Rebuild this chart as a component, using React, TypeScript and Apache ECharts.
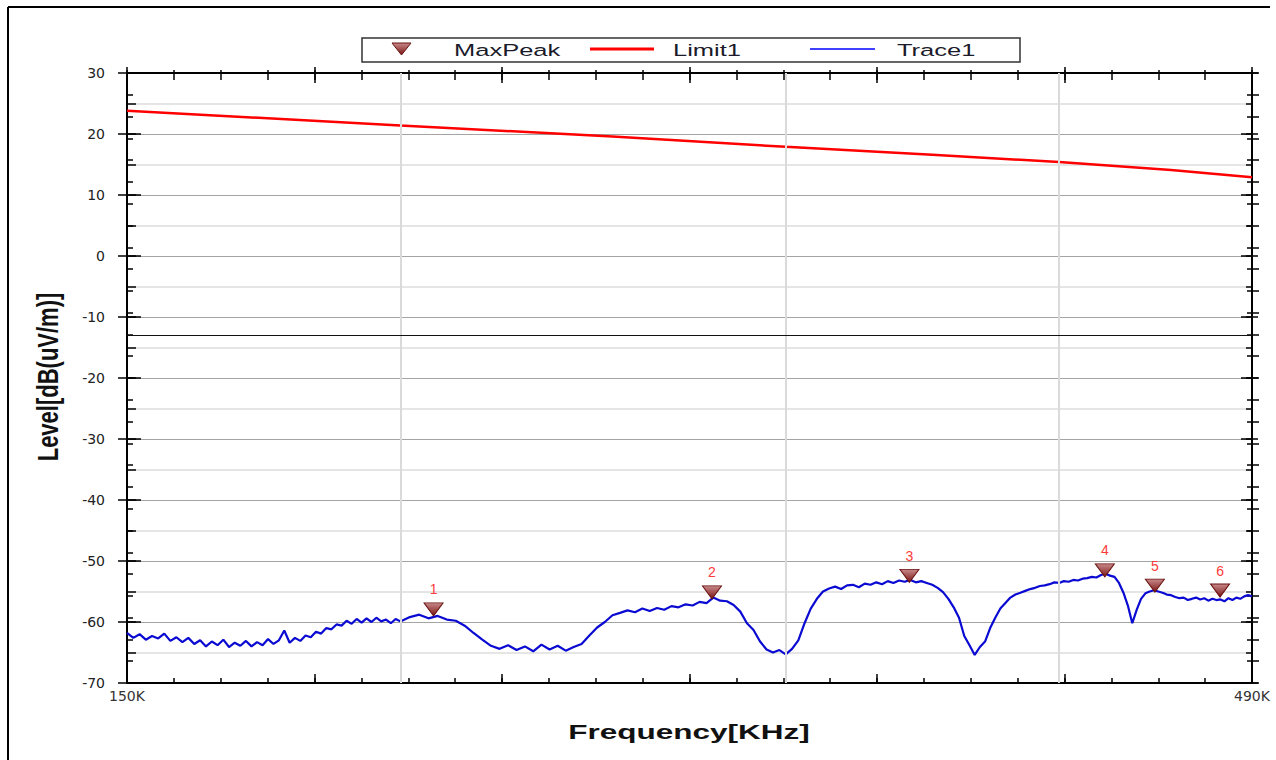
import { useEffect, useRef } from 'react';
import * as echarts from 'echarts';

// ---- axes ----
const xMin = 150;
const xMax = 490;
const xUnit = 'K';
const yMin = -70;
const yMax = 30;
const yStep = 10;
const yMinorStep = 5;
const gridFreqs = [200, 300, 400];
const refLevel = -13;
const xDecorDivs = 24;
const yDecorDivs = 28;

// ---- texts ----
const legendNames = ['MaxPeak', 'Limit1', 'Trace1'];
const xTitle = 'Frequency[KHz]';
const yTitle = 'Level[dB(uV/m)]';

// ---- data (kHz, dB(uV/m)) ----
const limit1: number[][] = [
  [150, 23.8], [200, 21.4], [250, 19.6], [300, 17.9], [350, 16.6], [400, 15.4], [450, 14.1], [490, 12.9],
];

const maxPeak: number[][] = [
  [207.1, -59.0], [277.6, -56.2], [341.7, -53.5], [419.7, -52.6], [442.4, -55.1], [473.8, -55.9],
];
const peakLabels = ['1', '2', '3', '4', '5', '6'];

const trace1: number[][] = [
  [150, -61.8], [151, -62.6], [152, -62.0], [153, -62.9], [154, -62.3], [155, -62.7], [156, -61.9], [157, -63.1],
  [158, -62.5], [159, -63.3], [160, -62.6], [161, -63.6], [162, -63.0], [163, -64.0], [164, -63.2], [165, -63.8],
  [166, -62.9], [167, -64.1], [168, -63.4], [169, -63.9], [170, -63.1], [171, -64.0], [172, -63.3], [173, -63.8],
  [174, -62.8], [175, -63.6], [176, -63.0], [177, -61.4], [178, -63.4], [179, -62.6], [180, -63.1], [181, -62.2],
  [182, -62.5], [183, -61.6], [184, -61.9], [185, -61.0], [186, -61.2], [187, -60.4], [188, -60.6], [189, -59.8],
  [190, -60.3], [191, -59.5], [192, -60.1], [193, -59.4], [194, -60.0], [195, -59.3], [196, -59.9], [197, -59.6],
  [198, -60.2], [199, -59.5], [200, -59.9],
  [202, -59.2], [204, -58.8], [206, -59.4], [208, -59.0], [210, -59.6], [212, -59.8], [214, -60.6], [216, -61.8],
  [218, -62.9], [220, -63.9], [222, -64.4], [224, -63.8], [226, -64.6], [228, -64.0], [230, -64.8], [232, -63.7],
  [234, -64.5], [236, -63.9], [238, -64.7], [240, -64.1], [242, -63.6], [244, -62.2], [246, -60.9], [248, -60.0],
  [250, -58.9], [252, -58.5], [254, -58.1], [256, -58.4], [258, -57.8], [260, -58.2], [262, -57.7], [264, -58.0],
  [266, -57.4], [268, -57.6], [270, -57.1], [272, -57.3], [274, -56.7], [276, -56.9], [278, -56.0], [280, -56.5],
  [282, -56.6], [284, -57.2], [286, -58.3], [288, -60.2], [290, -61.3], [292, -63.2], [294, -64.5], [296, -65.0],
  [298, -64.6], [300, -65.3],
  [302, -64.4], [304, -63.0], [306, -60.2], [308, -57.8], [310, -56.2], [312, -55.0], [314, -54.5], [316, -54.2],
  [318, -54.6], [320, -54.0], [322, -53.9], [324, -54.3], [326, -53.7], [328, -53.9], [330, -53.5], [332, -53.8],
  [334, -53.3], [336, -53.6], [338, -53.2], [340, -53.4], [342, -53.1], [344, -53.5], [346, -53.3], [348, -53.6],
  [350, -53.9], [352, -54.4], [354, -55.1], [356, -56.2], [358, -57.6], [360, -59.3], [362, -62.3], [364, -63.8],
  [366, -65.4], [368, -64.1], [370, -63.2], [372, -61.0], [374, -59.3], [376, -57.8], [378, -56.9], [380, -56.0],
  [382, -55.5], [384, -55.2], [386, -54.9], [388, -54.6], [390, -54.4], [392, -54.1], [394, -54.0], [396, -53.8],
  [398, -53.5], [400, -53.6],
  [402, -53.3], [404, -53.4], [406, -53.1], [408, -53.2], [410, -52.9], [412, -52.8], [414, -52.6], [416, -52.7],
  [418, -52.3], [420, -52.1], [422, -52.4], [424, -52.6], [426, -53.6], [428, -55.2], [430, -57.3], [432, -60.2],
  [434, -58.0], [436, -56.2], [438, -55.3], [440, -55.0], [442, -54.8], [444, -55.0], [446, -55.2], [448, -55.5],
  [450, -55.6], [452, -55.9], [454, -56.1], [456, -56.0], [458, -56.4], [460, -56.2], [462, -56.0], [464, -56.3],
  [466, -56.1], [468, -56.5], [470, -56.2], [472, -56.4], [474, -56.3], [476, -56.6], [478, -56.1], [480, -56.4],
  [482, -56.0], [484, -56.2], [486, -55.8], [488, -55.6], [490, -55.8],
];

const BLACK = '#000';
const FONT = 'Liberation Sans, Arial, sans-serif';

function triGrad() {
  return new echarts.graphic.LinearGradient(0, 0, 0, 1, [
    { offset: 0, color: '#c98a8a' },
    { offset: 1, color: '#7a1414' },
  ]);
}

function decorX(position: string, interval: number, inside: boolean, length: number, showLine = false) {
  return {
    type: 'value', gridIndex: 0, position, min: 0, max: xDecorDivs, interval,
    axisLine: { show: showLine, onZero: false, lineStyle: { color: BLACK, width: 2 } },
    axisTick: { show: true, inside, length, lineStyle: { color: BLACK, width: 1.5 } },
    axisLabel: { show: false }, splitLine: { show: false },
  };
}

function yAx(position: string, min: number, max: number, interval: number, inside: boolean, length: number, extra: any = {}) {
  return {
    type: 'value', gridIndex: 0, position, min, max, interval,
    axisLine: { show: false, onZero: false },
    axisTick: { show: true, inside, length, lineStyle: { color: BLACK, width: 1.5 } },
    axisLabel: { show: false }, splitLine: { show: false },
    ...extra,
  };
}

export default function App() {
  const ref = useRef<HTMLDivElement>(null);

  useEffect(() => {
    if (!ref.current) return;
    const chart = echarts.init(ref.current, null, { renderer: 'svg' });

    const option: any = {
      animation: false,
      backgroundColor: '#fff',
      grid: { left: 127, top: 73, width: 1125, height: 610, containLabel: false, outerBoundsMode: 'none' },
      xAxis: [
        {
          type: 'log', logBase: 10, gridIndex: 0, position: 'bottom', min: xMin, max: xMax,
          axisLine: { show: true, onZero: false, lineStyle: { color: BLACK, width: 2 } },
          axisTick: { show: false }, axisLabel: { show: false }, splitLine: { show: false }, minorTick: { show: false },
        },
        {
          type: 'value', gridIndex: 0, position: 'bottom', min: xMin, max: xMax, interval: xMax - xMin,
          axisLine: { show: false, onZero: false }, axisTick: { show: false }, splitLine: { show: false },
          axisLabel: {
            show: true, showMinLabel: true, showMaxLabel: true, margin: 6,
            fontFamily: 'DejaVu Sans', fontSize: 14, color: '#333',
            formatter: (v: number) => `${v}${xUnit}`,
          },
        },
        decorX('bottom', 1, true, 5),
        decorX('bottom', 4, true, 9),
        decorX('top', 1, true, 7, true),
        decorX('top', 1, false, 3),
        decorX('top', 4, true, 10),
        decorX('top', 4, false, 6),
      ],
      yAxis: [
        {
          type: 'value', gridIndex: 0, position: 'left', min: yMin, max: yMax, interval: yStep,
          axisLine: { show: true, onZero: false, lineStyle: { color: BLACK, width: 2 } },
          axisTick: { show: true, inside: false, length: 9, lineStyle: { color: BLACK, width: 1.5 } },
          axisLabel: { show: true, margin: 22, fontFamily: 'DejaVu Sans', fontSize: 14, color: '#222' },
          splitLine: { show: true, lineStyle: { color: '#a4a4a4', width: 1.2 } },
        },
        yAx('left', yMin, yMax, yStep, true, 14),
        yAx('left', yMin, yMax, yMinorStep, true, 9, {
          splitLine: { show: true, lineStyle: { color: ['rgba(0,0,0,0)', '#dcdcdc'], width: 1.5 } },
        }),
        yAx('left', 0, yDecorDivs, 1, true, 6),
        yAx('right', yMin, yMax, yMinorStep, true, 6, {
          axisLine: { show: true, onZero: false, lineStyle: { color: BLACK, width: 2 } },
        }),
        yAx('right', yMin, yMax, yStep, true, 11),
        yAx('right', yMin, yMax, yStep, false, 6),
        yAx('right', 0, yDecorDivs, 1, false, 7),
        yAx('right', 0, yDecorDivs, 1, true, 5),
      ],
      series: [
        {
          name: legendNames[1], type: 'line', xAxisIndex: 0, yAxisIndex: 0, data: limit1,
          symbol: 'none', lineStyle: { color: '#ff0000', width: 2.5 }, z: 3,
          markLine: {
            silent: true, symbol: 'none', label: { show: false },
            data: gridFreqs.map((f) => ({ xAxis: f, lineStyle: { color: '#dadada', width: 2, type: 'solid' } })),
          },
        },
        {
          name: legendNames[2], type: 'line', xAxisIndex: 0, yAxisIndex: 0, data: trace1,
          symbol: 'none', lineStyle: { color: '#0a0ad2', width: 2.2 }, z: 4,
          markLine: {
            silent: true, symbol: 'none', label: { show: false },
            data: [{ yAxis: refLevel, lineStyle: { color: '#111', width: 1, type: 'solid' } }],
          },
        },
        {
          name: legendNames[0], type: 'scatter', xAxisIndex: 0, yAxisIndex: 0, data: maxPeak,
          symbol: 'path://M0,0L20,0L10,13Z', symbolSize: [19, 13], symbolOffset: [0, -6.5],
          itemStyle: { color: triGrad(), borderColor: '#6a1010', borderWidth: 1, opacity: 1 },
          label: {
            show: true, position: 'top', distance: 6, color: '#ff3b3b', fontSize: 14, fontFamily: FONT,
            formatter: (p: any) => peakLabels[p.dataIndex],
          },
          z: 6,
        },
      ],
      graphic: [
        // outer frame
        { type: 'line', shape: { x1: 8, y1: 7, x2: 1270, y2: 7 }, style: { stroke: BLACK, lineWidth: 2 } },
        { type: 'line', shape: { x1: 8, y1: 7, x2: 8, y2: 760 }, style: { stroke: BLACK, lineWidth: 2 } },
        // legend
        { type: 'rect', shape: { x: 362, y: 38, width: 658, height: 24 }, style: { fill: '#fff', stroke: '#333', lineWidth: 1.5 }, z: 10 },
        { type: 'polygon', shape: { points: [[392, 43], [411, 43], [401.5, 55]] }, style: { fill: triGrad(), stroke: '#6a1010', lineWidth: 1 }, z: 11 },
        { type: 'text', x: 454, y: 50, scaleX: 1.5, z: 11, style: { text: legendNames[0], fontFamily: FONT, fontSize: 17, fill: '#1a1a2a', align: 'left', verticalAlign: 'middle' } },
        { type: 'line', shape: { x1: 590, y1: 49, x2: 654, y2: 49 }, style: { stroke: '#ff0000', lineWidth: 3 }, z: 11 },
        { type: 'text', x: 673, y: 50, scaleX: 1.5, z: 11, style: { text: legendNames[1], fontFamily: FONT, fontSize: 17, fill: '#1a1a2a', align: 'left', verticalAlign: 'middle' } },
        { type: 'line', shape: { x1: 810, y1: 49, x2: 875, y2: 49 }, style: { stroke: '#0000ff', lineWidth: 1.5 }, z: 11 },
        { type: 'text', x: 897, y: 50, scaleX: 1.5, z: 11, style: { text: legendNames[2], fontFamily: FONT, fontSize: 17, fill: '#1a1a2a', align: 'left', verticalAlign: 'middle' } },
        // axis titles
        { type: 'text', x: 689, y: 732, scaleX: 1.5, style: { text: xTitle, fontFamily: FONT, fontWeight: 'bold', fontSize: 21, fill: '#111', align: 'center', verticalAlign: 'middle' } },
        { type: 'text', x: 48, y: 377, rotation: Math.PI / 2, scaleY: 1.3, style: { text: yTitle, fontFamily: FONT, fontWeight: 'bold', fontSize: 22, fill: '#111', align: 'center', verticalAlign: 'middle' } },
      ],
    };

    chart.setOption(option);
    return () => chart.dispose();
  }, []);

  return <div ref={ref} style={{ position: 'absolute', left: 0, top: 0, width: 1276, height: 760 }} />;
}
